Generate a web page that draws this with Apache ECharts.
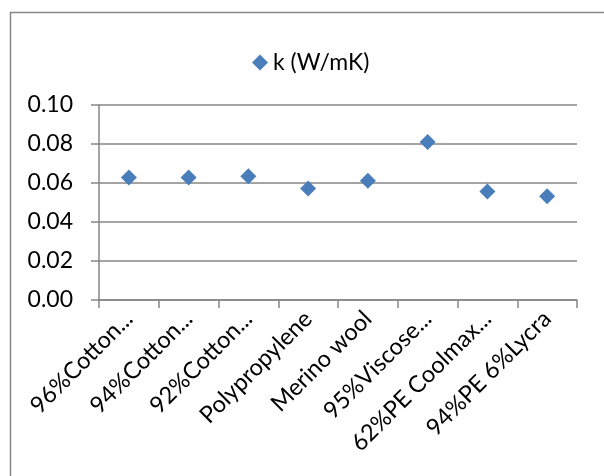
<!DOCTYPE html>
<html>
<head>
<meta charset="utf-8">
<script src="https://cdn.jsdelivr.net/npm/echarts@6/dist/echarts.min.js"></script>
<style>
  html, body { margin: 0; padding: 0; background: #fff; }
  #chart { width: 604px; height: 476px; }
</style>
</head>
<body>
<div id="chart"></div>
<script>
// fabric names as shown (truncated by the original chart)
var categories = ['96%Cotton...', '94%Cotton...', '92%Cotton...', 'Polypropylene',
  'Merino wool', '95%Viscose...', '62%PE Coolmax...', '94%PE 6%Lycra']
var kValues = [0.0628, 0.0628, 0.0635, 0.0572, 0.0611, 0.081, 0.0557, 0.0532]
var yTicks = ['0.00', '0.02', '0.04', '0.06', '0.08', '0.10']

var myChart = echarts.init(document.getElementById('chart'))
var grey = '#868686'
var font = 'Lato, "Liberation Sans", sans-serif'

var option = {
  backgroundColor: '#fff',
  animation: false,
  graphic: [
    {
      type: 'rect',
      shape: { x: 10.5, y: 12.5, width: 700, height: 600 },
      style: { fill: 'none', stroke: grey, lineWidth: 1.5 }
    }
  ],
  legend: {
    data: [{ name: 'k (W/mK)', icon: 'diamond' }],
    left: 247,
    top: 46,
    itemWidth: 16,
    itemHeight: 16,
    itemGap: 4,
    textStyle: { fontFamily: font, fontSize: 23, color: '#000' }
  },
  grid: { left: 99, right: 27, top: 105, bottom: 176 },
  xAxis: {
    type: 'category',
    data: categories,
    boundaryGap: true,
    axisLine: { lineStyle: { color: grey, width: 1.5 } },
    axisTick: { show: true, length: 8, interval: 0, lineStyle: { color: grey, width: 1.5 } },
    axisLabel: {
      interval: 0,
      rotate: 45,
      margin: 15,
      fontFamily: font,
      fontSize: 23.5,
      color: '#000'
    },
    splitLine: { show: false }
  },
  yAxis: {
    type: 'value',
    min: 0,
    max: 0.1,
    interval: 0.02,
    axisLine: { show: true, lineStyle: { color: grey, width: 1.5 } },
    axisTick: { show: true, length: 8, lineStyle: { color: grey, width: 1.5 } },
    axisLabel: {
      margin: 26,
      fontFamily: font,
      fontSize: 23,
      color: '#000',
      formatter: function (v) {
        return yTicks[Math.round(v / 0.02)]
      }
    },
    splitLine: { show: true, lineStyle: { color: grey, width: 1.5 } }
  },
  series: [
    {
      name: 'k (W/mK)',
      type: 'scatter',
      symbol: 'diamond',
      symbolSize: 16,
      data: kValues,
      itemStyle: { color: '#4A7EBB', opacity: 1 }
    }
  ]
}
myChart.setOption(option)
</script>
</body>
</html>
